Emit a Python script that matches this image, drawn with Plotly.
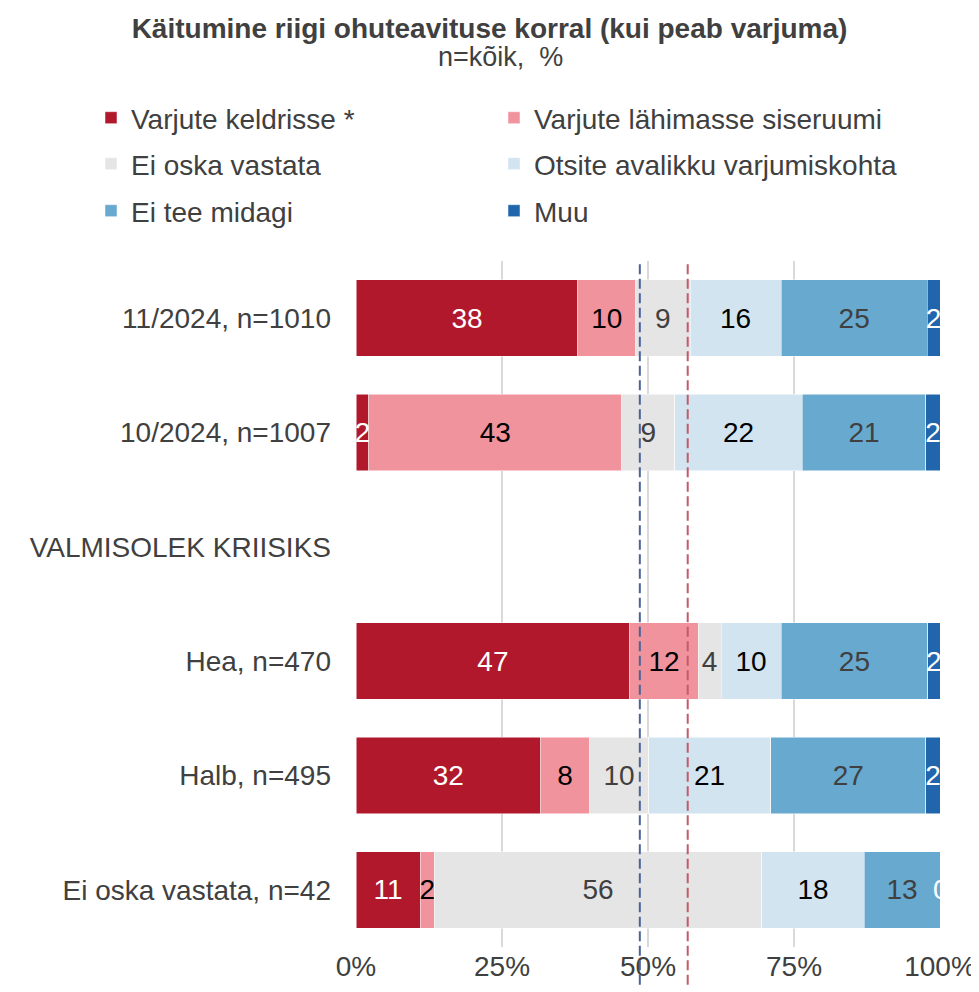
import plotly.graph_objects as go

categories = ["11/2024, n=1010", "10/2024, n=1007", "VALMISOLEK KRIISIKS",
              "Hea, n=470", "Halb, n=495", "Ei oska vastata, n=42"]

series_names = ["Varjute keldrisse *", "Varjute lähimasse siseruumi", "Ei oska vastata",
                "Otsite avalikku varjumiskohta", "Ei tee midagi", "Muu"]

varjute_keldrisse = [38.0, 2.2, None, 46.9, 31.6, 11.0]
varjute_lahimasse = [9.9, 43.3, None, 11.7, 8.4, 2.4]
ei_oska = [9.3, 9.1, None, 3.9, 10.1, 56.1]
otsite_avalikku = [15.6, 21.8, None, 10.3, 20.9, 17.5]
ei_tee_midagi = [25.0, 21.2, None, 25.1, 26.6, 13.0]
muu = [2.2, 2.4, None, 2.1, 2.4, 0.3]

ref_lines = [48.6, 56.8]
ref_colors = ["#4A6399", "#C45A68"]

colors = ["#B1182B", "#F0939C", "#E5E5E5", "#D1E4F0", "#67A9CF", "#2166AC"]
text_colors = ["#FFFFFF", "#000000", "#404040", "#000000", "#404040", "#FFFFFF"]
legend_ids = ["legend", "legend", "legend2", "legend2", "legend3", "legend3"]

values = [varjute_keldrisse, varjute_lahimasse, ei_oska, otsite_avalikku, ei_tee_midagi, muu]

FONT = "Liberation Sans, Arial, sans-serif"
GREY = "#404040"
FS = 28

fig = go.Figure()
for name, vals, col, tcol, lg in zip(series_names, values, colors, text_colors, legend_ids):
    fig.add_trace(go.Bar(
        y=categories, x=vals, name=name, orientation="h",
        marker=dict(color=col, line=dict(color="white", width=0.5)),
        texttemplate="%{x:.0f}", textposition="inside", insidetextanchor="middle",
        textangle=0, insidetextfont=dict(color=tcol, size=FS, family=FONT),
        cliponaxis=True, width=0.67, legend=lg, hoverinfo="skip",
    ))

for xv, c in zip(ref_lines, ref_colors):
    fig.add_shape(type="line", xref="x", yref="paper", x0=xv, x1=xv, y0=-0.055, y1=1.0,
                  line=dict(color=c, width=2, dash="10px,4.5px"))

# page is offset by the default 8px body margin
OFF = 8
W, H = 979 - OFF, 992 - OFF
ml, mr, mt, mb = 356 - OFF, 39, 261 - OFF, 45
pw, ph = W - ml - mr, H - mt - mb

def px_x(x_page):
    return (x_page - OFF - ml) / pw

def px_y(y_page):
    return (H - mb - (y_page - OFF)) / ph

leg_common = dict(orientation="h", xanchor="left", yanchor="middle", entrywidth=358,
                  font=dict(size=FS, color=GREY, family=FONT), bgcolor="rgba(0,0,0,0)",
                  traceorder="normal")

fig.update_layout(
    width=W, height=H,
    margin=dict(l=ml, r=mr, t=mt, b=mb, autoexpand=False),
    barmode="stack", bargap=0.33,
    plot_bgcolor="white", paper_bgcolor="white",
    font=dict(family=FONT, size=FS, color=GREY),
    uniformtext=dict(minsize=FS, mode="show"),
    title=dict(text="<b>Käitumine riigi ohuteavituse korral (kui peab varjuma)</b>",
               x=(489.5 - OFF) / W, xanchor="center", y=1 - (28 - OFF) / H,
               yanchor="middle", yref="container",
               font=dict(size=28, color=GREY, family=FONT)),
    legend=dict(x=px_x(91), y=px_y(118), **leg_common),
    legend2=dict(x=px_x(91), y=px_y(164), **leg_common),
    legend3=dict(x=px_x(91), y=px_y(211), **leg_common),
    xaxis=dict(range=[0, 100], tickvals=[0, 25, 50, 75, 100],
               ticktext=["0%", "25%", "50%", "75%", "100%"],
               showgrid=True, gridcolor="#D9D9D9", gridwidth=2,
               zeroline=False, showline=False, ticks="", automargin=False,
               tickfont=dict(size=FS, color=GREY), fixedrange=True),
    yaxis=dict(categoryorder="array", categoryarray=categories, autorange="reversed",
               showgrid=False, zeroline=False, showline=False, ticks="", automargin=False,
               ticklabelstandoff=24, tickfont=dict(size=FS, color=GREY)),
    annotations=[dict(text="n=kõik,&nbsp; %", xref="paper", yref="paper",
                      x=px_x(500), y=px_y(57), xanchor="center", yanchor="middle",
                      showarrow=False, font=dict(size=27, color=GREY, family=FONT))],
    showlegend=True,
)

fig.write_html("out.html")
